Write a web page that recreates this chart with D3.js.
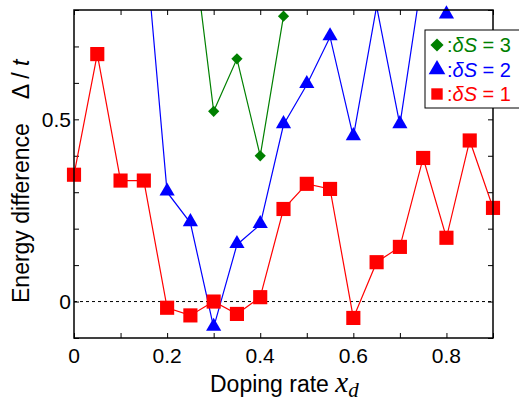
<!DOCTYPE html>
<html>
<head>
<meta charset="utf-8">
<script src="https://cdn.jsdelivr.net/npm/d3@7"></script>
<style>
body { margin: 0; background: #fff; }
text { font-family: "Liberation Sans", Arial, sans-serif; }
</style>
</head>
<body>
<div id="chart"></div>
<script>
// doping rates
var xs = [0, 0.05, 0.1, 0.15, 0.2, 0.25, 0.3, 0.35, 0.4, 0.45, 0.5, 0.55, 0.6, 0.65, 0.7, 0.75, 0.8, 0.85, 0.9];
// dS = 1
var s1 = [0.348, 0.679, 0.332, 0.332, -0.017, -0.038, 0.0, -0.034, 0.012, 0.254, 0.323, 0.309, -0.045, 0.108, 0.150, 0.394, 0.175, 0.442, 0.257];
// dS = 2 (starts at 0.15)
var xs2 = [0.15, 0.2, 0.25, 0.3, 0.35, 0.4, 0.45, 0.5, 0.55, 0.6, 0.65, 0.7, 0.75, 0.8];
var s2 = [1.03, 0.30, 0.216, -0.071, 0.156, 0.211, 0.485, 0.595, 0.726, 0.452, 0.81, 0.485, 0.91, 0.786];
// dS = 3 (starts at 0.25)
var xs3 = [0.25, 0.3, 0.35, 0.4, 0.45];
var s3 = [1.04, 0.522, 0.666, 0.400, 0.783];

var xTicks = [0, 0.2, 0.4, 0.6, 0.8];
var yTicks = [0, 0.5];

var width = 519, height = 401;
var pLeft = 74, pRight = 493, pTop = 10, pBottom = 338;

var svg = d3.select("#chart").append("svg")
    .attr("width", width)
    .attr("height", height);

var x = d3.scaleLinear().domain([0, 0.9]).range([pLeft, pRight]);
var y = d3.scaleLinear().domain([-0.1, 0.8]).range([pBottom, pTop]);

svg.append("clipPath").attr("id", "clip")
    .append("rect")
    .attr("x", pLeft).attr("y", pTop)
    .attr("width", pRight - pLeft).attr("height", pBottom - pTop);

// zero line
svg.append("line")
    .attr("x1", pLeft).attr("x2", pRight)
    .attr("y1", y(0)).attr("y2", y(0))
    .attr("stroke", "#000")
    .attr("stroke-width", 1)
    .attr("stroke-dasharray", "3,3");

//axes with inward ticks on all four sides
var minorX = d3.range(0, 0.91, 0.1);
var minorY = d3.range(-0.1, 0.81, 0.1);
svg.append("g").attr("transform", "translate(0," + pBottom + ")")
    .call(d3.axisBottom(x).tickValues(minorX).tickSize(-5).tickFormat(""));
svg.append("g").attr("transform", "translate(0," + pTop + ")")
    .call(d3.axisTop(x).tickValues(minorX).tickSize(-5).tickFormat(""));
svg.append("g").attr("transform", "translate(" + pLeft + ",0)")
    .call(d3.axisLeft(y).tickValues(minorY).tickSize(-5).tickFormat(""));
svg.append("g").attr("transform", "translate(" + pRight + ",0)")
    .call(d3.axisRight(y).tickValues(minorY).tickSize(-5).tickFormat(""));
svg.selectAll(".domain").remove();
svg.selectAll(".tick line").attr("stroke", "#000").attr("stroke-width", 1);

svg.selectAll(".xlab")
    .data(xTicks)
    .enter()
    .append("text")
    .attr("x", function (d) { return x(d); })
    .attr("y", 363)
    .attr("text-anchor", "middle")
    .attr("font-size", 21)
    .text(function (d) { return d === 0 ? "0" : d.toFixed(1); });

svg.selectAll(".ylab")
    .data(yTicks)
    .enter()
    .append("text")
    .attr("x", 71)
    .attr("y", function (d) { return y(d) + 7.5; })
    .attr("text-anchor", "end")
    .attr("font-size", 21)
    .text(function (d) { return d === 0 ? "0" : d.toFixed(1); });

// axis titles
var xt = svg.append("text")
    .attr("x", 210)
    .attr("y", 392)
    .attr("font-size", 23);
xt.append("tspan").text("Doping rate ");
xt.append("tspan").attr("font-family", "Liberation Serif").attr("font-style", "italic").attr("font-size", 29).text("x");
xt.append("tspan").attr("font-family", "Liberation Serif").attr("font-style", "italic").attr("font-size", 21).attr("dy", 5).text("d");

var yt = svg.append("text")
    .attr("transform", "translate(29,303) rotate(-90)")
    .attr("font-size", 23);
yt.append("tspan").text("Energy difference");
yt.append("tspan").attr("dx", 24).text("\u0394 / ");
yt.append("tspan").attr("font-style", "italic").text("t");

// series
var series = [
    { xv: xs3, yv: s3, color: "#008000", shape: d3.symbolDiamond2, size: 80 },
    { xv: xs2, yv: s2, color: "#0000ff", shape: d3.symbolTriangle, size: 100 },
    { xv: xs, yv: s1, color: "#ff0000", shape: d3.symbolSquare, size: 200 }
];

var line = d3.line()
    .x(function (d) { return x(d[0]); })
    .y(function (d) { return y(d[1]); });

series.forEach(function (s) {
    var pts = s.xv.map(function (v, i) { return [v, s.yv[i]]; });
    svg.append("path")
        .datum(pts)
        .attr("clip-path", "url(#clip)")
        .attr("fill", "none")
        .attr("stroke", s.color)
        .attr("stroke-width", 1.2)
        .attr("d", line);
    svg.selectAll(null)
        .data(pts.filter(function (d) { return d[1] <= 0.8; }))
        .enter()
        .append("path")
        .attr("d", d3.symbol().type(s.shape).size(s.size))
        .attr("transform", function (d) {
            var dy = s.shape === d3.symbolTriangle ? -1 : 0;
            return "translate(" + x(d[0]) + "," + (y(d[1]) + dy) + ")";
        })
        .attr("fill", s.color);
});

// frame
svg.append("rect")
    .attr("x", pLeft).attr("y", pTop)
    .attr("width", pRight - pLeft).attr("height", pBottom - pTop)
    .attr("fill", "none")
    .attr("stroke", "#000")
    .attr("stroke-width", 1.5);

// legend
var legend = svg.append("g");
legend.append("rect")
    .attr("x", 425).attr("y", 30)
    .attr("width", 100).attr("height", 78)
    .attr("fill", "#fff")
    .attr("stroke", "#000")
    .attr("stroke-width", 1);

var legLabels = ["3", "2", "1"];
var legSizes = [110, 120, 130];
series.forEach(function (s, i) {
    var cy = 45 + i * 24.5;
    legend.append("path")
        .attr("d", d3.symbol().type(s.shape).size(legSizes[i]))
        .attr("transform", "translate(437," + cy + ")")
        .attr("fill", s.color);
    var t = legend.append("text")
        .attr("x", 447)
        .attr("y", cy + 7)
        .attr("font-size", 20)
        .attr("fill", s.color);
    t.append("tspan").text(":");
    t.append("tspan").attr("font-style", "italic").text("\u03B4S");
    t.append("tspan").text(" = " + legLabels[i]);
});
</script>
</body>
</html>
